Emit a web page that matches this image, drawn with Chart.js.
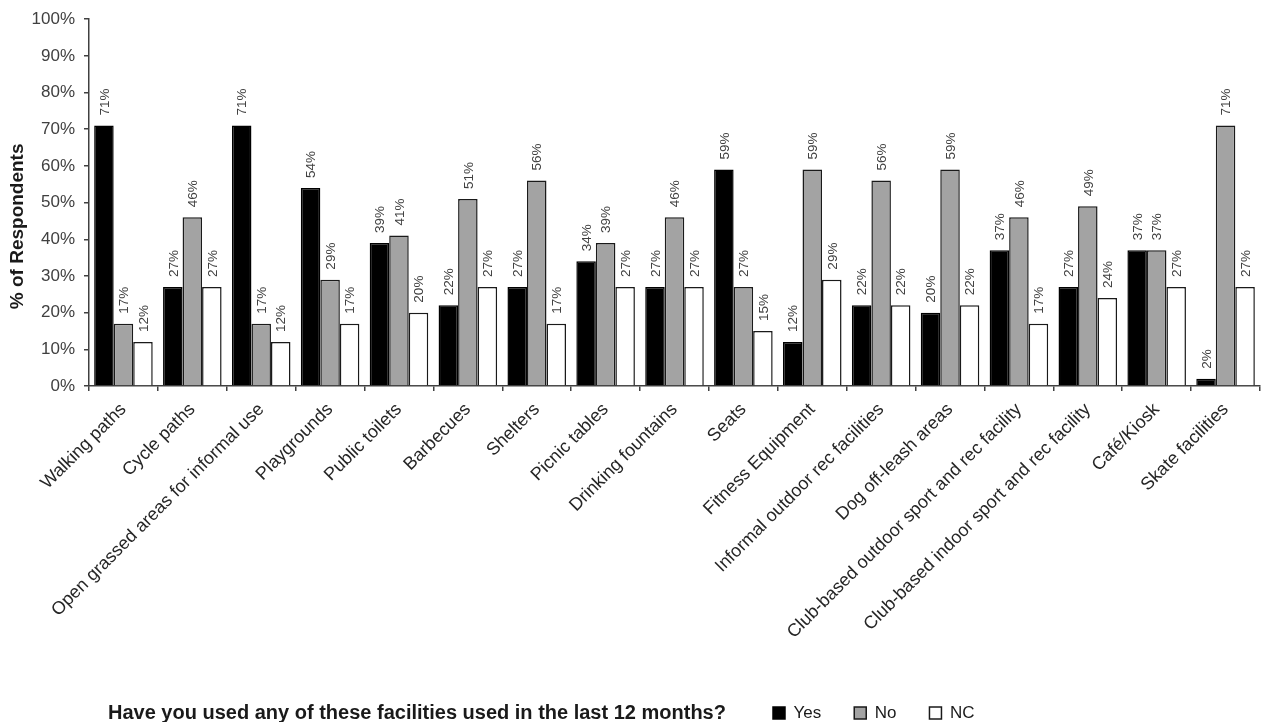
<!DOCTYPE html>
<html>
<head>
<meta charset="utf-8">
<script src="https://cdn.jsdelivr.net/npm/chart.js@4.4.0/dist/chart.umd.min.js"></script>
<style>
html, body { margin: 0; padding: 0; background: #fff; }
</style>
</head>
<body>
<canvas id="myChart" width="1267" height="722"></canvas>
<script>
// facilities on the x axis
var categories = [
    "Walking paths", "Cycle paths", "Open grassed areas for informal use", "Playgrounds",
    "Public toilets", "Barbecues", "Shelters", "Picnic tables", "Drinking fountains",
    "Seats", "Fitness Equipment", "Informal outdoor rec facilities", "Dog off-leash areas",
    "Club-based outdoor sport and rec facility", "Club-based indoor sport and rec facility",
    "Café/Kiosk", "Skate facilities"
];
var seriesNames = ["Yes", "No", "NC"];
var yesValues = [71, 27, 71, 54, 39, 22, 27, 34, 27, 59, 12, 22, 20, 37, 27, 37, 2];
var noValues  = [17, 46, 17, 29, 41, 51, 56, 39, 46, 27, 59, 56, 59, 46, 49, 37, 71];
var ncValues  = [12, 27, 12, 17, 20, 27, 17, 27, 27, 15, 29, 22, 22, 17, 24, 27, 27];
var legendTitle = "Have you used any of these facilities used in the last 12 months?";
var yTitle = "% of Respondents";

var fontFamily = 'Arial, "Liberation Sans", sans-serif';
Chart.defaults.font.family = fontFamily;

// value labels, rotated, above each bar
var barLabels = {
    id: 'barLabels',
    afterDatasetsDraw: function(chart) {
        var ctx = chart.ctx;
        ctx.save();
        ctx.font = '13.5px ' + fontFamily;
        ctx.fillStyle = '#404040';
        ctx.textAlign = 'left';
        ctx.textBaseline = 'middle';
        chart.data.datasets.forEach(function(ds, i) {
            var meta = chart.getDatasetMeta(i);
            meta.data.forEach(function(bar, j) {
                ctx.save();
                ctx.translate(bar.x + 1, bar.y - 10);
                ctx.rotate(-Math.PI / 2);
                ctx.fillText(ds.data[j] + '%', 0, 0);
                ctx.restore();
            });
        });
        ctx.restore();
    }
};

// put the legend on one line with its question to the left
var legendRow = {
    id: 'legendRow',
    afterLayout: function(chart) {
        var lg = chart.legend;
        var pad = lg.options.labels.padding;
        lg.left = 773 - pad;
        lg.top = 713 - pad - 17 / 2;
    },
    afterDraw: function(chart) {
        var ctx = chart.ctx;
        ctx.save();
        ctx.font = 'bold 20px ' + fontFamily;
        ctx.fillStyle = '#1a1a1a';
        ctx.textAlign = 'left';
        ctx.textBaseline = 'middle';
        ctx.fillText(legendTitle, 108, 713);
        ctx.restore();
    }
};

var ctx = document.getElementById("myChart");
var myChart = new Chart(ctx, {
    type: 'bar',
    data: {
        labels: categories,
        datasets: [
            {
                label: seriesNames[0],
                data: yesValues,
                backgroundColor: '#000000',
                borderColor: '#000000',
                borderWidth: 1.5
            },
            {
                label: seriesNames[1],
                data: noValues,
                backgroundColor: '#a3a3a3',
                borderColor: '#1a1a1a',
                borderWidth: 1.5
            },
            {
                label: seriesNames[2],
                data: ncValues,
                backgroundColor: '#ffffff',
                borderColor: '#1a1a1a',
                borderWidth: 1.5
            }]
    },
    options: {
        responsive: false,
        animation: false,
        devicePixelRatio: 1,
        categoryPercentage: 0.85,
        barPercentage: 1.0,
        layout: { padding: { top: 19, right: 7, left: 0, bottom: 0 } },
        plugins: {
            legend: {
                position: 'bottom',
                align: 'start',
                labels: {
                    boxWidth: 12,
                    boxHeight: 12,
                    padding: 33,
                    color: '#1a1a1a',
                    font: { size: 17 }
                }
            },
            tooltip: { enabled: false }
        },
        scales: {
            x: {
                grid: {
                    display: true,
                    drawOnChartArea: false,
                    tickLength: 5,
                    color: '#404040',
                    lineWidth: 1.5,
                    offset: true
                },
                border: { color: '#404040', width: 1.5 },
                ticks: {
                    autoSkip: false,
                    maxRotation: 45,
                    minRotation: 45,
                    padding: 8,
                    color: '#262626',
                    font: { size: 18 }
                },
                afterFit: function(scale) { scale.height = 276; }
            },
            y: {
                min: 0,
                max: 100,
                ticks: {
                    stepSize: 10,
                    padding: 9,
                    color: '#404040',
                    font: { size: 17 },
                    callback: function(v) { return v + '%'; }
                },
                grid: {
                    drawOnChartArea: false,
                    tickLength: 5,
                    color: '#404040',
                    lineWidth: 1.5
                },
                border: { color: '#404040', width: 1.5 },
                title: {
                    display: true,
                    text: yTitle + '\u00a0\u00a0\u00a0\u00a0\u00a0\u00a0\u00a0\u00a0\u00a0',
                    color: '#1a1a1a',
                    font: { size: 19, weight: 'bold' },
                    padding: { top: 6, bottom: 0 }
                },
                afterFit: function(scale) { scale.width = 89; }
            }
        }
    },
    plugins: [barLabels, legendRow]
});
</script>
</body>
</html>
